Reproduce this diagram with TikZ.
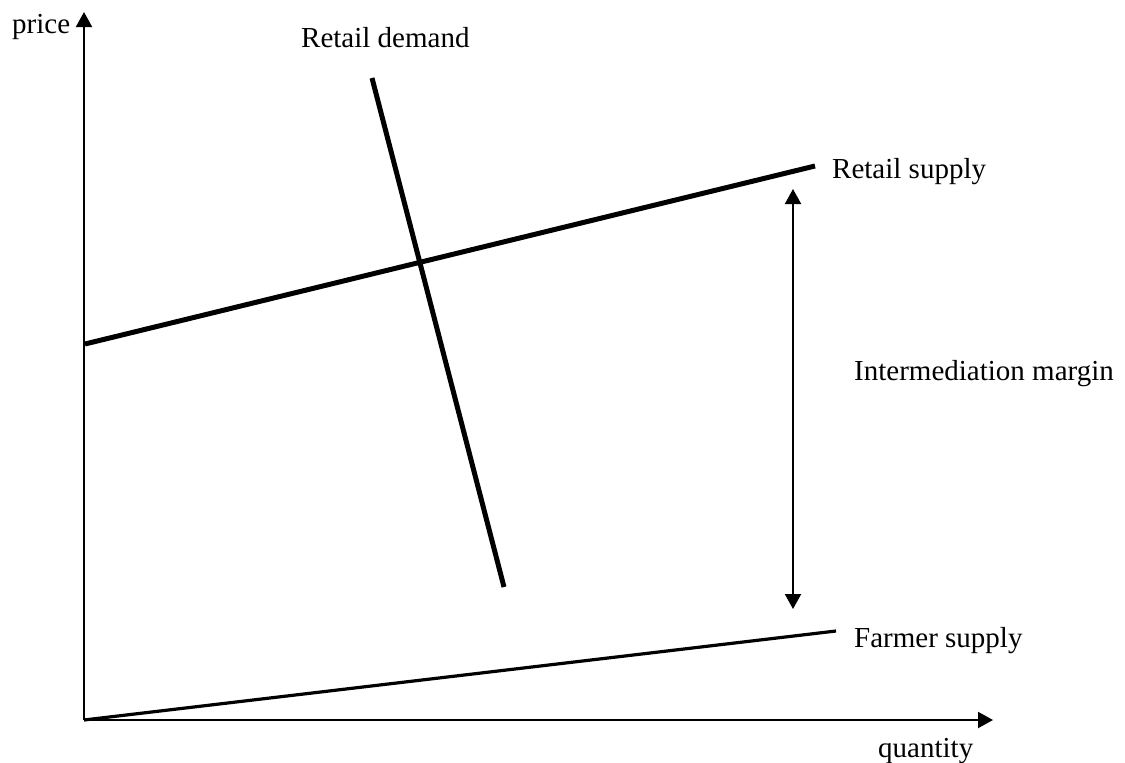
\documentclass[tikz,border=0pt]{standalone}
\usepackage{fontspec}
\setmainfont{Liberation Serif}
\usetikzlibrary{arrows.meta}
\begin{document}
\begin{tikzpicture}[x=1pt,y=-1pt,
  lbl/.style={inner sep=0pt,anchor=base west,font=\fontsize{29}{34}\selectfont},
  axis/.style={line width=2pt,-{Triangle[width=16pt,length=15pt]}},
  curve/.style={line width=5pt},
  thin curve/.style={line width=3.2pt},
  margin/.style={line width=2pt,{Triangle[width=16pt,length=15pt]}-{Triangle[width=16pt,length=15pt]}}]
\useasboundingbox (0,0) rectangle (1125,763);
\coordinate (O) at (84,720);
\coordinate (ytop) at (84,12);
\coordinate (xend) at (993,720);
\coordinate (rs1) at (85,344);
\coordinate (rs2) at (815,166);
\coordinate (rd1) at (372,78);
\coordinate (rd2) at (504,587);
\coordinate (fs1) at (84,720);
\coordinate (fs2) at (836,631);
\coordinate (m1) at (793,189);
\coordinate (m2) at (793,609);
\draw[axis] (O) -- (ytop);
\draw[axis] (O) -- (xend);
\draw[curve] (rs1) -- (rs2);
\draw[curve] (rd1) -- (rd2);
\draw[thin curve] (fs1) -- (fs2);
\draw[margin] (m1) -- (m2);
\node[lbl] (price) at (12,33) {price};
\node[lbl] (qty) at (878,757) {quantity};
\node[lbl] (rdl) at (301,47) {Retail demand};
\node[lbl] (rsl) at (832,178) {Retail supply};
\node[lbl] (iml) at (854,380) {Intermediation margin};
\node[lbl] (fsl) at (854,647) {Farmer supply};
\end{tikzpicture}
\end{document}
